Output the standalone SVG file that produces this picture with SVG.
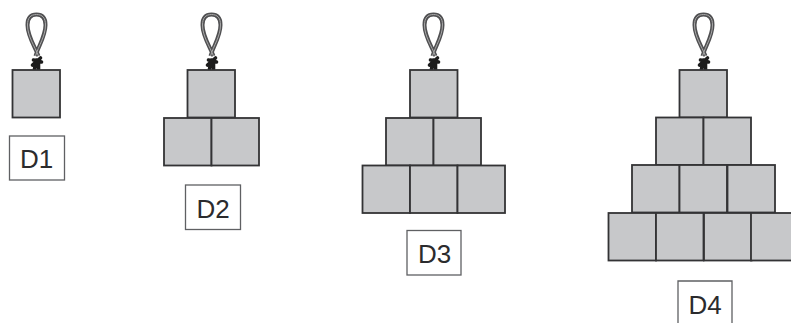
<svg xmlns="http://www.w3.org/2000/svg" width="791" height="323" viewBox="0 0 791 323">
<style>
.b{fill:#c7c8ca;stroke:#333335;stroke-width:1.8}
.l{fill:#fff;stroke:#5f6063;stroke-width:1.3}
.t{font:26px "Liberation Sans",Arial,sans-serif;fill:#2b2b2d;text-anchor:middle}
.o{fill:none;stroke:#505052;stroke-width:4}
.i{fill:none;stroke:#a8a8a8;stroke-width:1}
.k{fill:none;stroke:#1c1c1c;stroke-width:3.6;stroke-linecap:round}
</style>
<defs>
<g id="loop">
<path class="o" d="M2 56C-2 46-9 36-9 25C-9 18-6 14.500 0 14.500C6 14.500 9 18 9 25C9 36 2 46 -1 56"/>
<path class="i" d="M2 56C-2 46-9 36-9 25C-9 18-6 14.500 0 14.500C6 14.500 9 18 9 25C9 36 2 46 -1 56"/>
<path class="k" d="M-4 65L4 58M-3 60L5 62M-2 69L0 60M2 69L2 60"/>
</g>
<rect id="s" class="b" width="47.500" height="47.500"/>
</defs>
<g id="D1">
<use href="#loop" x="36.500"/>
<use href="#s" x="12.500" y="70"/>
<rect class="l" x="9.500" y="136" width="55" height="44"/>
<text class="t" x="36.500" y="168">D1</text>
</g>
<g id="D2">
<use href="#loop" x="211.500"/>
<use href="#s" x="187.500" y="70"/>
<use href="#s" x="164" y="118"/><use href="#s" x="211.500" y="118"/>
<rect class="l" x="185.500" y="185" width="55" height="44.500"/>
<text class="t" x="213" y="218">D2</text>
</g>
<g id="D3">
<use href="#loop" x="433.500"/>
<use href="#s" x="410" y="70"/>
<use href="#s" x="386" y="118"/><use href="#s" x="433.500" y="118"/>
<use href="#s" x="362.500" y="165.500"/><use href="#s" x="410" y="165.500"/><use href="#s" x="457.500" y="165.500"/>
<rect class="l" x="407" y="230.500" width="54" height="44.500"/>
<text class="t" x="434.500" y="263">D3</text>
</g>
<g id="D4">
<use href="#loop" x="703.500"/>
<use href="#s" x="679.500" y="70"/>
<use href="#s" x="656" y="117.500"/><use href="#s" x="703.500" y="117.500"/>
<use href="#s" x="632" y="165"/><use href="#s" x="679.500" y="165"/><use href="#s" x="727.500" y="165"/>
<use href="#s" x="608.500" y="213"/><use href="#s" x="656" y="213"/><use href="#s" x="704" y="213"/><use href="#s" x="751" y="213"/>
<path class="l" d="M678 324V281H732V324"/>
<text class="t" x="705" y="314">D4</text>
</g>
</svg>
